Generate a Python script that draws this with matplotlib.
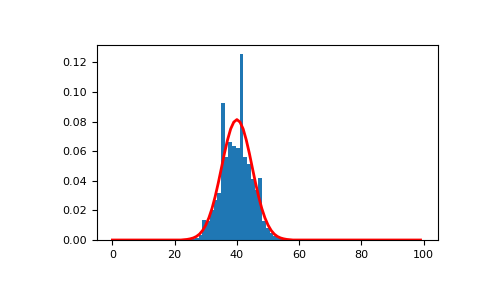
import numpy as np
import matplotlib
matplotlib.use("Agg")
import matplotlib.pyplot as plt

plt.rcParams["font.size"] = 8

# histogram bins, density scale
bin_edges = [25.3, 26.5, 27.7, 28.9, 30.1, 31.3, 32.5, 33.7, 34.9, 36.1,
             37.3, 38.5, 39.7, 40.9, 42.1, 43.3, 44.5, 45.7, 46.9, 48.1,
             49.3, 50.5, 51.7, 52.9, 54.1, 55.3]
bin_heights = [0.0005, 0.0013, 0.0035, 0.0137, 0.0126, 0.0200, 0.0270,
               0.0318, 0.0928, 0.0562, 0.0660, 0.0636, 0.0625, 0.1254,
               0.0562, 0.0515, 0.0410, 0.0340, 0.0418, 0.0128, 0.0080,
               0.0048, 0.0030, 0.0016, 0.0008]

# fitted curve, sampled at integer x
curve_x = list(range(0, 100))
curve_nonzero = {
    23: 0.0002, 24: 0.0004, 25: 0.0008, 26: 0.0014, 27: 0.0024,
    28: 0.0040, 29: 0.0065, 30: 0.0101, 31: 0.0150, 32: 0.0213,
    33: 0.0292, 34: 0.0384, 35: 0.0484, 36: 0.0586, 37: 0.0677,
    38: 0.0751, 39: 0.0797, 40: 0.0814, 41: 0.0797, 42: 0.0751,
    43: 0.0677, 44: 0.0586, 45: 0.0484, 46: 0.0384, 47: 0.0292,
    48: 0.0213, 49: 0.0150, 50: 0.0101, 51: 0.0065, 52: 0.0040,
    53: 0.0024, 54: 0.0014, 55: 0.0008, 56: 0.0004, 57: 0.0002,
}
curve_y = [curve_nonzero.get(x, 0.0) for x in curve_x]


def main():
    fig = plt.figure(figsize=(4.85, 3.0), dpi=100)
    ax = fig.add_axes([0.2, 0.2, 0.703, 0.65])

    edges = np.array(bin_edges)
    centers = (edges[:-1] + edges[1:]) / 2
    ax.hist(centers, bins=edges, weights=bin_heights, color="#1f77b4")
    ax.plot(curve_x, curve_y, color="red", lw=2)

    ax.set_xlim(-4.95, 104.6)
    ax.set_ylim(0, 0.1318)
    ax.set_xticks([0, 20, 40, 60, 80, 100])
    ax.set_yticks([0.0, 0.02, 0.04, 0.06, 0.08, 0.10, 0.12])

    fig.savefig("out.png", dpi=100)


if __name__ == "__main__":
    main()
